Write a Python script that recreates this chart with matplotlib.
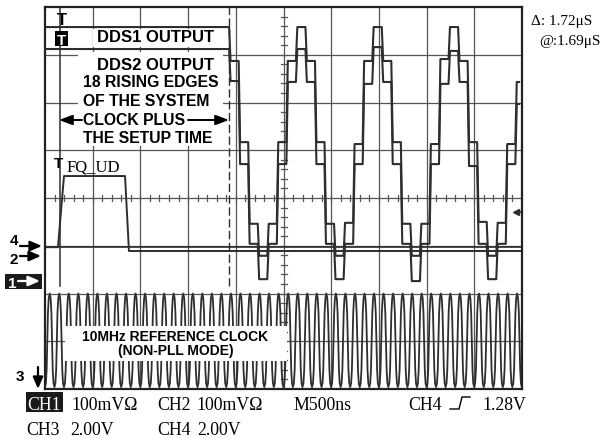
"""
Scope capture: DDS1/DDS2 outputs, FQ_UD strobe and the 10 MHz reference clock.
"""

import matplotlib

matplotlib.use("Agg")
import matplotlib.pyplot as plt
from matplotlib.patches import Rectangle

W, H = 601, 439
SANS = "Liberation Sans"
SERIF = "Liberation Serif"
TRACE = "#2e2e2e"
GRID = "#555555"

# screen: 10 div x 500 ns, 8 div vertical
t_span_ns = 5000
n_div_y = 8

# CH1/CH2 DDS outputs, in screen divisions, one level per 100 ns DAC sample
dds_start_ns = 1930
dds_sample_ns = 100
dds_end_ns = 4970
dds1_idle = 7.58
dds2_idle = 7.12
dds1_levels = [6.87, 5.17, 3.46, 2.79, 3.46, 5.17, 6.87, 7.58,
               6.87, 5.17, 3.46, 2.79, 3.48, 5.13, 6.87, 7.58,
               6.87, 5.17, 3.46, 2.79, 3.46, 5.13, 6.91, 7.58,
               6.87, 5.17, 3.50, 2.79, 3.48, 5.13, 6.43]
dds2_levels = [6.45, 4.71, 3.04, 2.30, 3.04, 4.71, 6.43, 7.12,
               6.43, 4.71, 3.04, 2.30, 3.04, 4.71, 6.39, 7.16,
               6.43, 4.71, 3.04, 2.26, 3.04, 4.71, 6.39, 7.08,
               6.43, 4.67, 3.04, 2.30, 3.04, 4.71, 5.97]

# CH4 FQ_UD strobe and the flat line it sits on
fq_ud_t = [0, 136, 199, 839, 880, 5000]
fq_ud_v = [2.97, 2.97, 4.46, 4.46, 2.89, 2.89]
ch4_ref_t = [0, 5000]
ch4_ref_v = [2.97, 2.97]

# CH3 10 MHz reference clock: one period as seen on screen, starting at a crest
clk_period_ns = 100
clk_first_crest_ns = 49
clk_cycles = 51
clk_shape_t = [0, 10, 18, 25, 32, 40, 50, 60, 68, 75, 82, 90, 100]
clk_shape_v = [2.00, 1.90, 1.60, 1.02, 0.40, 0.12, 0.04, 0.12, 0.40, 1.02, 1.60, 1.90, 2.00]

# cursors
cursor_solid_ns = 157
cursor_dashed_ns = 1929
cursor_bottom = 2.16


def at(x, y):
    """Screen pixel (top-left origin) to data coordinates."""
    return (x - 45) / 477 * t_span_ns, (390 - y) / 382 * n_div_y


def fig_px(x, y):
    return x / W, 1 - y / H


def step_trace(idle, levels, slew=15):
    ts, vs = [0, dds_start_ns], [idle, idle]
    for k, v in enumerate(levels):
        t = dds_start_ns + k * dds_sample_ns
        ts += [t + slew, min(t + dds_sample_ns, dds_end_ns)]
        vs += [v, v]
    return ts, vs


def white_box(ax, x0, y0, x1, y1, color="white", z=3.5):
    bx, by = at(x0, y1)
    ex, ey = at(x1, y0)
    ax.add_patch(Rectangle((bx, by), ex - bx, ey - by, fc=color, ec="none", zorder=z, clip_on=False))


def dark_box(ax, x0, y0, x1, y1):
    # black tag outside the screen, drawn with the axes so arrows can sit on top
    ax.add_patch(Rectangle(fig_px(x0, y1), (x1 - x0) / W, (y1 - y0) / H,
                           transform=fig.transFigure, fc="#1a1a1a", ec="none",
                           zorder=5.5, clip_on=False))


def fig_arrow(ax, x0, y0, x1, y1, color="black", hl=0.7, hw=0.35, lw=2.0):
    ax.annotate("", xy=(x1, H - y1), xytext=(x0, H - y0), xycoords="figure pixels",
                textcoords="figure pixels", annotation_clip=False,
                arrowprops=dict(arrowstyle=f"-|>,head_length={hl},head_width={hw}",
                                color=color, lw=lw, shrinkA=0, shrinkB=0), zorder=6)


fig = plt.figure(figsize=(W / 100, H / 100), dpi=100)
ax = fig.add_axes([45 / W, 1 - 390 / H, 477 / W, 382 / H])
ax.set_xlim(0, t_span_ns)
ax.set_ylim(0, n_div_y)
ax.set_xticks([])
ax.set_yticks([])
for s in ax.spines.values():
    s.set_linewidth(1.6)
    s.set_color("#222222")
    s.set_zorder(5)

# graticule
for i in range(1, 10):
    ax.axvline(i * 500, color=GRID, lw=0.9, zorder=1)
for j in range(1, n_div_y):
    ax.axhline(j, color=GRID, lw=0.9, zorder=1)
tick_x = 3 / 47.7 * 500
tick_y = 3 / 47.75
for k in range(1, 50):
    ax.plot([k * 100] * 2, [4 - tick_y, 4 + tick_y], color=GRID, lw=0.9, zorder=1)
for k in range(1, 40):
    ax.plot([2500 - tick_x, 2500 + tick_x], [k * 0.2] * 2, color=GRID, lw=0.9, zorder=1)

# cursors
ax.plot([cursor_solid_ns] * 2, [cursor_bottom, n_div_y], color=TRACE, lw=1.1, zorder=2)
ax.plot([cursor_dashed_ns] * 2, [cursor_bottom, n_div_y], color=TRACE, lw=1.0,
        ls=(0, (6, 2.5)), zorder=2)

# traces
for idle, levels in [(dds1_idle, dds1_levels), (dds2_idle, dds2_levels)]:
    ts, vs = step_trace(idle, levels)
    ax.plot(ts, vs, color=TRACE, lw=1.5, zorder=3)

ax.plot(ch4_ref_t, ch4_ref_v, color=TRACE, lw=1.2, zorder=3)
ax.plot(fq_ud_t, fq_ud_v, color=TRACE, lw=1.4, zorder=3)

clk_t, clk_v = [], []
for n in range(clk_cycles):
    base = clk_first_crest_ns + (n - 1) * clk_period_ns
    clk_t += [base + t for t in clk_shape_t[:-1]]
    clk_v += clk_shape_v[:-1]
ax.plot(clk_t, clk_v, color=TRACE, lw=1.3, zorder=3)

# label boxes
white_box(ax, 93, 30, 226, 48)
white_box(ax, 78, 53, 223, 147)
white_box(ax, 65, 327, 287, 362)

lbl = dict(fontfamily=SANS, fontweight="bold", color="black", zorder=6, va="baseline")
ax.text(*at(97, 42), "DDS1 OUTPUT", fontsize=12, **lbl)
ax.text(*at(97, 70), "DDS2 OUTPUT", fontsize=12, **lbl)
ax.text(*at(83, 87), "18 RISING EDGES", fontsize=11.3, **lbl)
ax.text(*at(83, 106), "OF THE SYSTEM", fontsize=11.3, **lbl)
ax.text(*at(83, 125), "CLOCK PLUS", fontsize=11.3, **lbl)
ax.text(*at(83, 143), "THE SETUP TIME", fontsize=11.3, **lbl)
ax.text(*at(175, 341), "10MHz REFERENCE CLOCK", fontsize=10, ha="center", **lbl)
ax.text(*at(176, 355), "(NON-PLL MODE)", fontsize=10, ha="center", **lbl)

fig_arrow(ax, 82, 121, 59, 121, hl=0.8, hw=0.3, lw=1.4)
fig_arrow(ax, 188, 121, 229, 121, hl=0.8, hw=0.3, lw=1.4)

# trigger marks inside the screen
ax.text(*at(62, 25), "T", fontsize=12, ha="center", **lbl)
white_box(ax, 55, 32, 68, 47, color="black", z=5.5)
ax.text(*at(61.5, 45), "T", fontsize=11, ha="center", fontfamily=SANS, fontweight="bold",
        color="white", zorder=6, va="baseline")
ax.text(*at(58.5, 168), "T", fontsize=11, ha="center", **lbl)
ax.text(*at(67, 172), "FQ_UD", fontsize=12, fontfamily=SERIF, color="black", zorder=6,
        va="baseline")
ax.plot(*at(516, 213), marker="<", ms=5, color=TRACE, zorder=4)
ax.plot(*zip(at(516, 213), at(522, 213)), color=TRACE, lw=1.2, zorder=4)

# channel ground markers on the left
side = dict(fontfamily=SANS, fontweight="bold", fontsize=11, ha="center", va="baseline")
fig.text(*fig_px(13.5, 245), "4", **side)
fig_arrow(ax, 20, 247, 42, 247, hl=0.7, hw=0.3, lw=1.6)
fig.text(*fig_px(13.5, 264), "2", **side)
fig_arrow(ax, 20, 257, 41, 257, hl=0.7, hw=0.3, lw=1.6)
dark_box(ax, 5, 275, 42, 290)
fig.text(*fig_px(12, 288), "1", color="white", **side)
fig_arrow(ax, 18, 282, 40, 282, color="white", hl=0.7, hw=0.3, lw=1.6)
fig.text(*fig_px(20, 381), "3", **side)
fig_arrow(ax, 38, 368, 38, 390, hl=0.7, hw=0.3, lw=1.6)

# readouts
ro = dict(fontfamily=SERIF, fontsize=11, va="baseline")
fig.text(*fig_px(531, 25), "Δ: 1.72μS", **ro)
fig.text(*fig_px(539, 45), "@:1.69μS", **ro)

bt = dict(fontfamily=SERIF, fontsize=12.8, va="baseline")
dark_box(ax, 26, 393, 63, 413)
fig.text(*fig_px(27.5, 410), "CH1", color="white", **bt)
fig.text(*fig_px(71.5, 410), "100mVΩ", **bt)
fig.text(*fig_px(157, 410), "CH2", **bt)
fig.text(*fig_px(196, 410), "100mVΩ", **bt)
fig.text(*fig_px(293, 410), "M500ns", **bt)
fig.text(*fig_px(408, 410), "CH4", **bt)
trig_x = [450, 459, 462, 470]
trig_y = [410, 410, 398, 398]
fig.add_artist(plt.Line2D([x / W for x in trig_x], [1 - y / H for y in trig_y],
                          transform=fig.transFigure, color="black", lw=1.0))
fig.text(*fig_px(482, 410), "1.28V", **bt)
fig.text(*fig_px(26, 435), "CH3", **bt)
fig.text(*fig_px(70, 435), "2.00V", **bt)
fig.text(*fig_px(157, 435), "CH4", **bt)
fig.text(*fig_px(197, 435), "2.00V", **bt)

fig.savefig("out.png", dpi=100)
